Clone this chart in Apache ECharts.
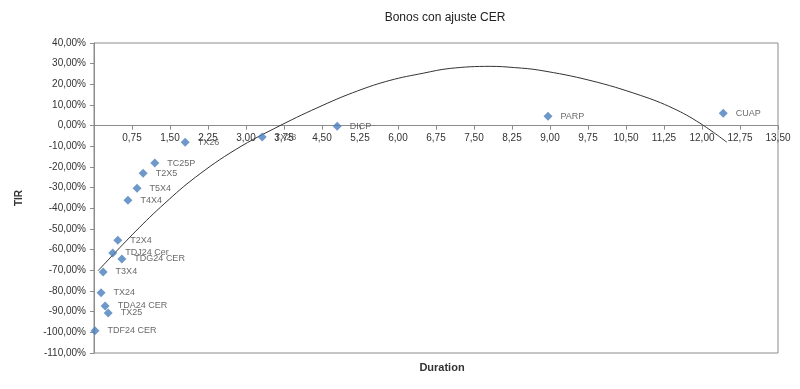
<!DOCTYPE html>
<html><head><meta charset="utf-8">
<script src="https://cdn.jsdelivr.net/npm/echarts@6/dist/echarts.min.js"></script>
<style>html,body{margin:0;padding:0;background:#fff}#c{width:800px;height:389px}</style>
</head><body><div id="c"></div>
<script>
// Bond data: name, duration, TIR (%)
var bondNames = ['TDF24 CER','TX24','TDA24 CER','TX25','T3X4','TDJ24 Cer','TDG24 CER','T2X4','T4X4','T5X4','T2X5','TC25P','TX26','TX28','DICP','PARP','CUAP'];
var durations = [0.02,0.14,0.22,0.28,0.18,0.37,0.55,0.47,0.67,0.85,0.97,1.20,1.80,3.32,4.80,8.96,12.42];
var tirValues = [-99.2,-80.9,-87.2,-90.6,-70.8,-61.6,-64.5,-55.4,-36.1,-30.3,-23.0,-18.1,-8.0,-5.5,-0.3,4.5,6.0];
// Trendline points
var trendX = [0.08,0.81,1.4,2.0,2.8,3.67,4.52,5.2,5.84,6.5,7.03,7.82,8.3,8.80,9.79,10.78,11.43,11.96,12.49];
var trendY = [-70.2,-51.4,-37.5,-25.0,-11.5,0,9.9,16.8,21.9,25.4,27.7,28.7,28.1,26.8,21.9,14.7,8.4,1.2,-8.0];

var pts = bondNames.map(function(n,i){return {name:n,value:[durations[i],tirValues[i]]};});
var trend = trendX.map(function(x,i){return [x,trendY[i]];});
function fmt(v){return v.toFixed(2).replace('.',',');}

var yMin = -110, yMax = 40;
var gTop = 43, gBottom = 36, H = 389;
var plotH = H - gTop - gBottom;
var zeroY = gTop + plotH * (yMax - 0) / (yMax - yMin);

var font = 'Liberation Sans, Arial';
var chart = echarts.init(document.getElementById('c'));
chart.setOption({
  animation:false,
  backgroundColor:'#fff',
  title:[
    {text:'Bonos con ajuste CER',left:440,top:7,textAlign:'center',textStyle:{fontFamily:font,fontSize:12,fontWeight:'normal',color:'#222'}},
    {text:'Duration',left:437,top:357,textAlign:'center',textStyle:{fontFamily:font,fontSize:11,fontWeight:'bold',color:'#333'}}
  ],
  grid:[
    {left:94,right:22,top:gTop,bottom:gBottom,show:true,borderColor:'#8c8c8c',borderWidth:1},
    {left:94,right:22,top:gTop,bottom:H - zeroY,show:false}
  ],
  xAxis:[
    {type:'value',gridIndex:0,min:0,max:13.5,interval:0.75,
     axisLine:{show:false},axisTick:{show:false},axisLabel:{show:false},splitLine:{show:false}},
    {type:'value',gridIndex:1,min:0,max:13.5,interval:0.75,position:'bottom',
     axisLine:{show:true,onZero:false,lineStyle:{color:'#8c8c8c'}},
     axisTick:{show:true,inside:false,length:4,lineStyle:{color:'#8c8c8c'}},
     splitLine:{show:false},
     axisLabel:{margin:8,color:'#333',fontFamily:font,fontSize:10,
       formatter:function(v){return v===0?'':fmt(v);}}}
  ],
  yAxis:[
    {type:'value',gridIndex:0,min:yMin,max:yMax,interval:10,
     name:'TIR',nameLocation:'middle',nameGap:70,nameRotate:90,
     nameTextStyle:{fontFamily:font,fontSize:10,fontWeight:'bold',color:'#333'},
     axisLine:{show:true,onZero:false,lineStyle:{color:'#8c8c8c'}},
     axisTick:{show:true,length:4,lineStyle:{color:'#8c8c8c'}},
     splitLine:{show:false},
     axisLabel:{margin:8,color:'#333',fontFamily:font,fontSize:10,
       formatter:function(v){return fmt(v)+'%';}}},
    {type:'value',gridIndex:1,min:0,max:yMax,show:false}
  ],
  series:[
    {type:'line',xAxisIndex:0,yAxisIndex:0,data:trend,smooth:0.4,showSymbol:false,symbol:'none',
     lineStyle:{color:'#333',width:1},z:3,silent:true},
    {type:'scatter',xAxisIndex:0,yAxisIndex:0,data:pts,symbol:'diamond',symbolSize:9,
     itemStyle:{color:'#4a7ebb'},z:4,
     label:{show:true,position:'right',distance:8,formatter:'{b}',
       fontFamily:font,fontSize:9,color:'#444'}}
  ]
});
</script></body></html>
